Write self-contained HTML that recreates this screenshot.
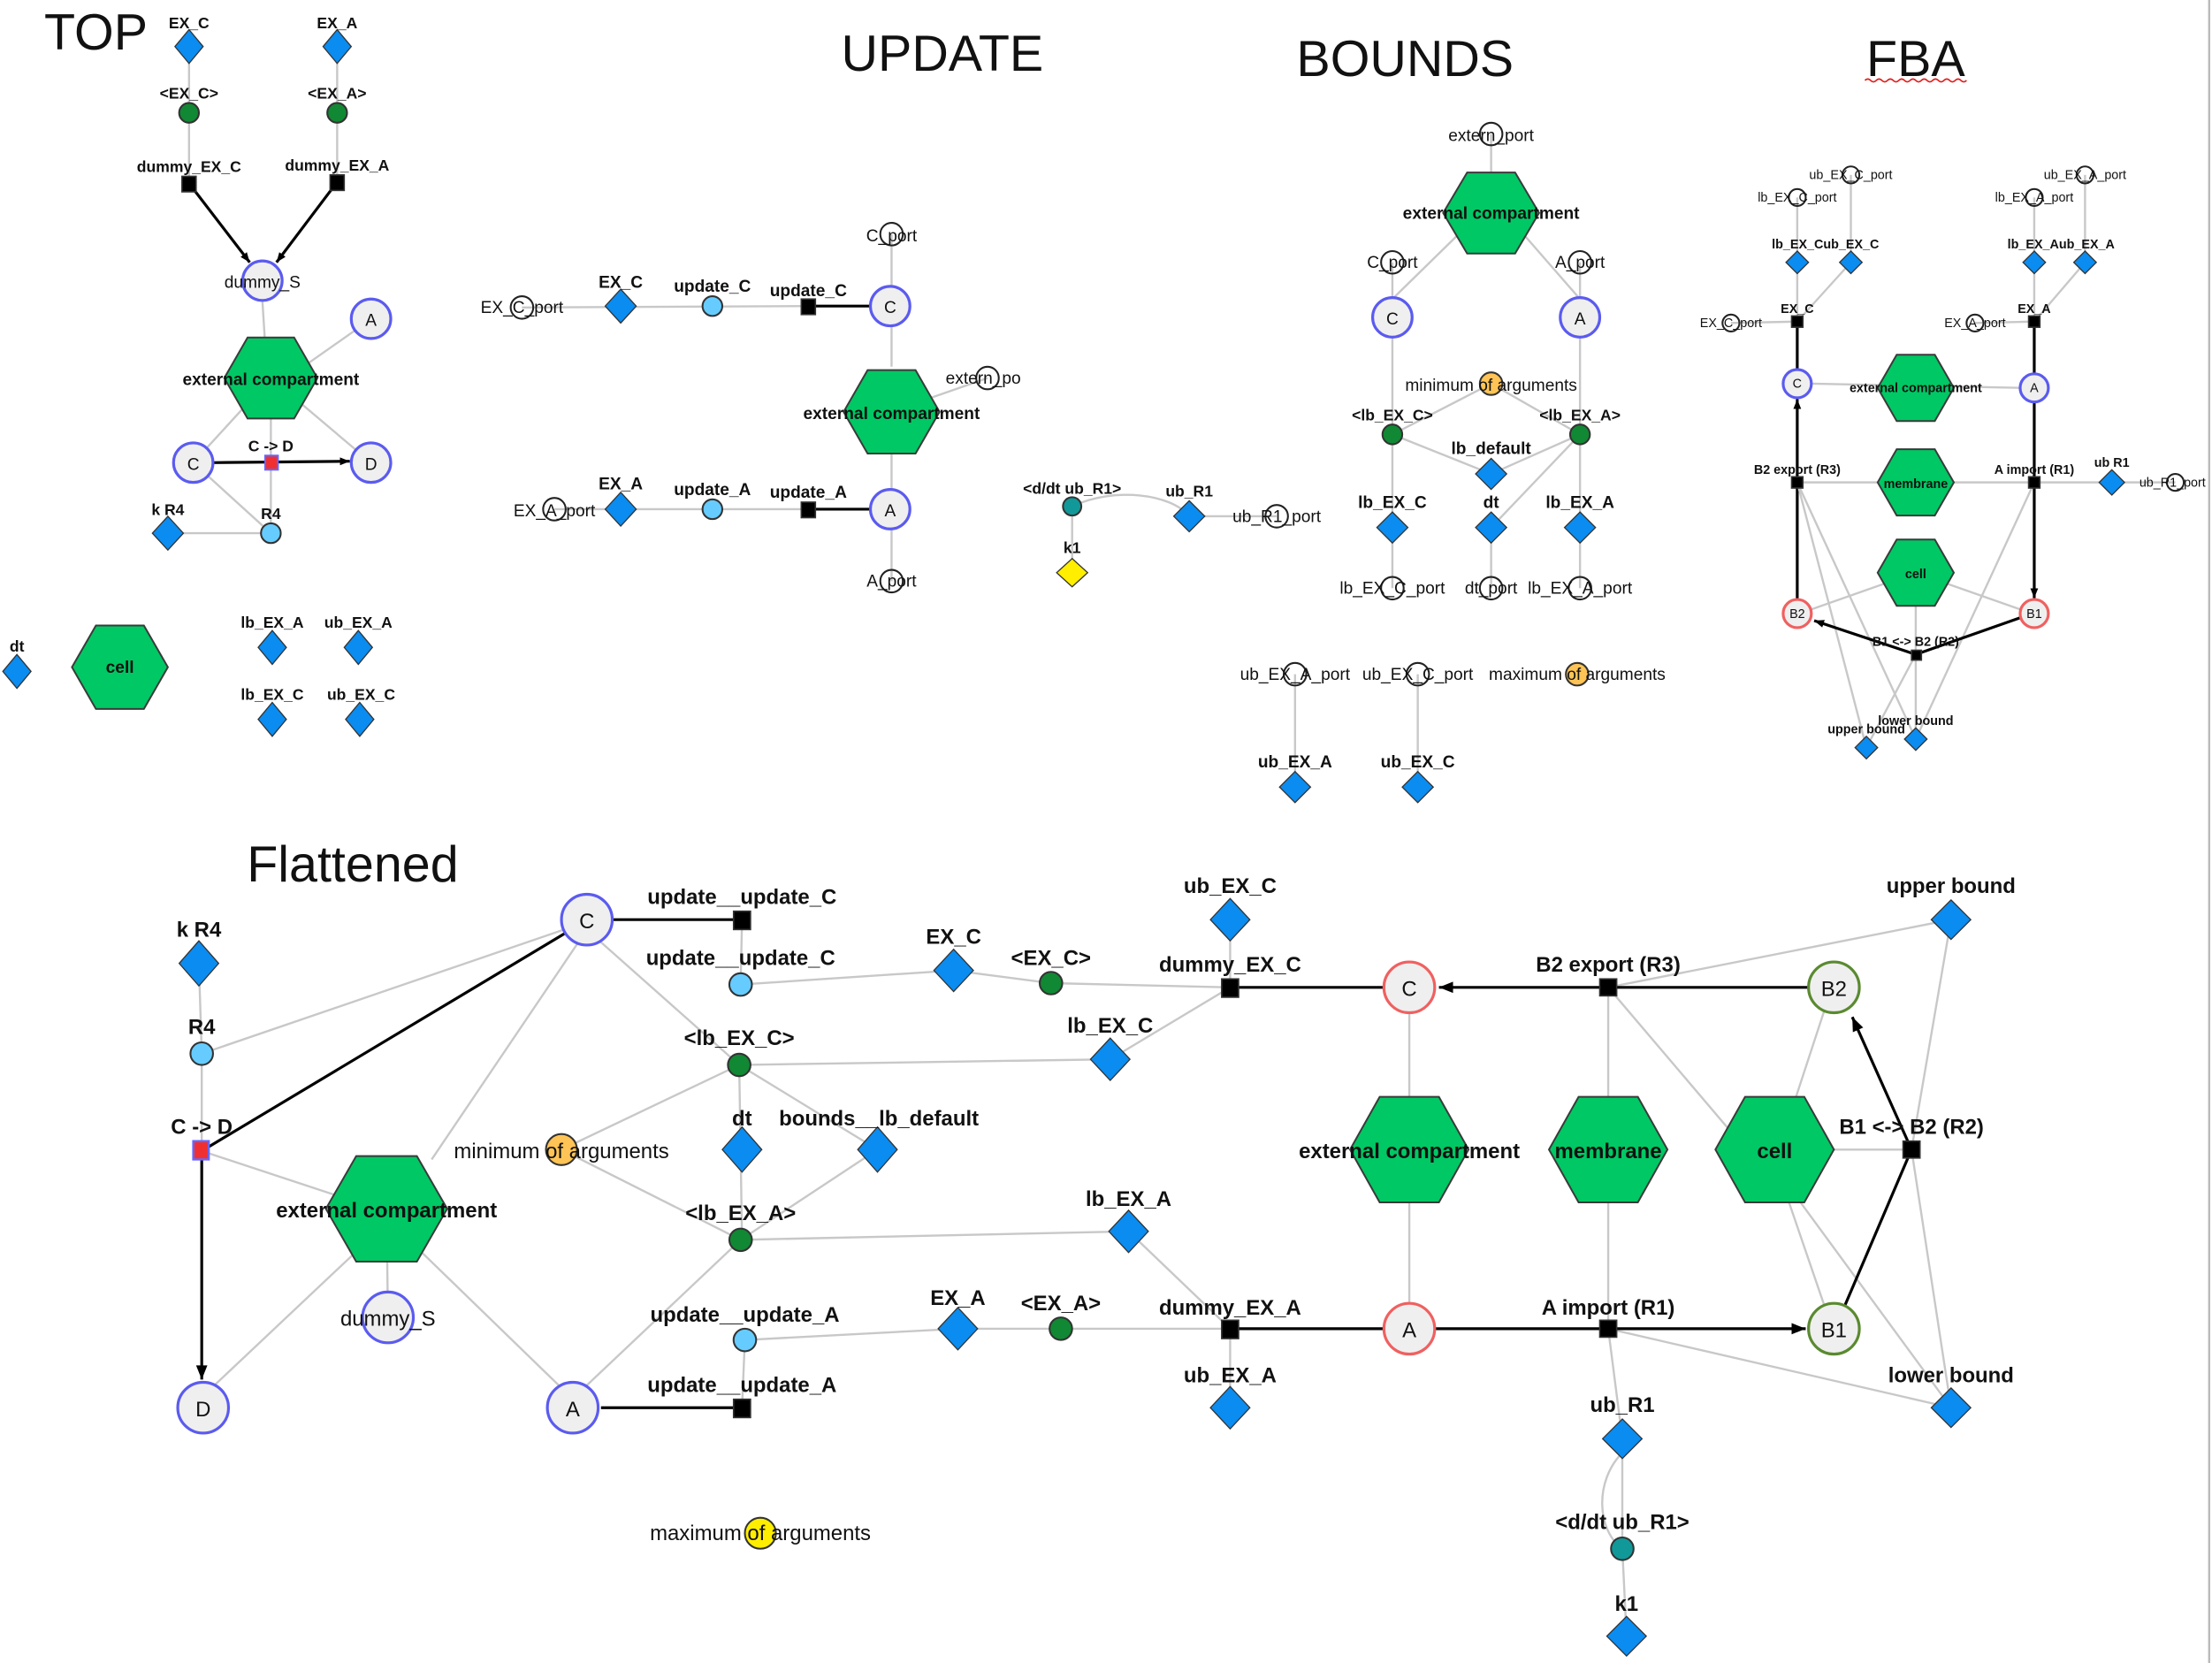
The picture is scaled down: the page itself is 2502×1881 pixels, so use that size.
<!DOCTYPE html>
<html><head><meta charset="utf-8"><style>
html,body{margin:0;padding:0;background:#fff;}
svg{display:block}
text{font-family:"Liberation Sans",sans-serif;text-anchor:middle;fill:#111}
.b{font-weight:bold}
.g{stroke:#c8c8c8;stroke-width:1.5;fill:none}
.k{stroke:#000;stroke-width:2;fill:none}
.dm{fill:#0a8cf0;stroke:#333;vector-effect:non-scaling-stroke;stroke-width:1.3}
.hx{fill:#00c864;stroke:#3a3a3a;vector-effect:non-scaling-stroke;stroke-width:2}
.sp{fill:#efefef;stroke:#5b5bf0;stroke-width:2}
.spr{fill:#efefef;stroke:#f06060;stroke-width:2}
.spg{fill:#efefef;stroke:#5a8a30;stroke-width:2}
.gc{fill:#118833;stroke:#333;stroke-width:1.3}
.lb{fill:#66ccff;stroke:#333;stroke-width:1.3}
.pt{fill:none;stroke:#222;stroke-width:1.3}
.sq{fill:#000;stroke:#333;stroke-width:1}
</style></head><body>
<svg width="2502" height="1881" viewBox="0 0 1568 1179" preserveAspectRatio="none" xmlns="http://www.w3.org/2000/svg">
<defs>
<marker id="ar" viewBox="0 0 10 10" refX="10" refY="5" markerWidth="7" markerHeight="7" orient="auto-start-reverse" markerUnits="userSpaceOnUse"><path d="M0,1 L10,5 L0,9Z" fill="#000"/></marker>
<marker id="ar2" viewBox="0 0 10 10" refX="10" refY="5" markerWidth="12" markerHeight="10" orient="auto" markerUnits="userSpaceOnUse"><path d="M0,1 L10,5 L0,9Z" fill="#000"/></marker>
</defs>
<line x1="1566" y1="0" x2="1566" y2="1179" stroke="#bbb" stroke-width="1.5"/>

<!-- ================= TOP ================= -->
<text x="68" y="35" font-size="36">TOP</text>
<line class="g" x1="134" y1="33" x2="134" y2="130"/>
<line class="g" x1="239" y1="33" x2="239" y2="129"/>
<line class="k" x1="134" y1="130" x2="177" y2="186" marker-end="url(#ar)" stroke-width="1.5"/>
<line class="k" x1="239" y1="129" x2="196" y2="186" marker-end="url(#ar)" stroke-width="1.5"/>
<line class="g" x1="186" y1="213" x2="188" y2="245"/>
<line class="g" x1="252" y1="234" x2="215" y2="260"/>
<line class="g" x1="192" y1="268" x2="137" y2="328"/>
<line class="g" x1="192" y1="268" x2="263" y2="328"/>
<line class="g" x1="192" y1="280" x2="192" y2="378"/>
<line class="g" x1="137" y1="328" x2="192" y2="378"/>
<line class="g" x1="119" y1="378" x2="192" y2="378"/>
<line class="k" x1="150" y1="328" x2="248" y2="327" marker-end="url(#ar)" stroke-width="1.5"/>
<path d="M0,-1 L1,0 L0,1 L-1,0Z" class="dm" transform="translate(134,33) scale(10,12)"/>
<path d="M0,-1 L1,0 L0,1 L-1,0Z" class="dm" transform="translate(239,33) scale(10,12)"/>
<text x="134" y="20" font-size="11" class="b">EX_C</text>
<text x="239" y="20" font-size="11" class="b">EX_A</text>
<circle cx="134" cy="80" r="7" class="gc"/><circle cx="239" cy="80" r="7" class="gc"/>
<text x="134" y="70" font-size="11" class="b">&lt;EX_C&gt;</text>
<text x="239" y="70" font-size="11" class="b">&lt;EX_A&gt;</text>
<rect x="129" y="125" width="10" height="11" class="sq"/><rect x="234" y="124" width="10" height="11" class="sq"/>
<text x="134" y="122" font-size="11" class="b">dummy_EX_C</text>
<text x="239" y="121" font-size="11" class="b">dummy_EX_A</text>
<ellipse cx="186" cy="199" rx="14" ry="14" class="sp"/>
<text x="186" y="204" font-size="12">dummy_S</text>
<circle cx="263" cy="226" r="14" class="sp"/><text x="263" y="231" font-size="12">A</text>
<path d="M-1,0 L-0.5,-0.87 L0.5,-0.87 L1,0 L0.5,0.87 L-0.5,0.87Z" class="hx" transform="translate(192,268) scale(33,33)"/>
<text x="192" y="273" font-size="12" class="b">external compartment</text>
<circle cx="137" cy="328" r="14" class="sp"/><text x="137" y="333" font-size="12">C</text>
<circle cx="263" cy="328" r="14" class="sp"/><text x="263" y="333" font-size="12">D</text>
<rect x="188" y="323" width="9" height="10" fill="#f03030" stroke="#6666ff" stroke-width="1.3"/>
<text x="192" y="320" font-size="11" class="b">C -&gt; D</text>
<path d="M0,-1 L1,0 L0,1 L-1,0Z" class="dm" transform="translate(119,378) scale(11,12)"/>
<text x="119" y="365" font-size="11" class="b">k R4</text>
<circle cx="192" cy="378" r="7" class="lb"/>
<text x="192" y="368" font-size="11" class="b">R4</text>
<path d="M0,-1 L1,0 L0,1 L-1,0Z" class="dm" transform="translate(12,476) scale(10,12)"/>
<text x="12" y="462" font-size="11" class="b">dt</text>
<path d="M-1,0 L-0.5,-0.87 L0.5,-0.87 L1,0 L0.5,0.87 L-0.5,0.87Z" class="hx" transform="translate(85,473) scale(34,34)"/>
<text x="85" y="477" font-size="12" class="b">cell</text>
<path d="M0,-1 L1,0 L0,1 L-1,0Z" class="dm" transform="translate(193,459) scale(10,12)"/>
<path d="M0,-1 L1,0 L0,1 L-1,0Z" class="dm" transform="translate(254,459) scale(10,12)"/>
<path d="M0,-1 L1,0 L0,1 L-1,0Z" class="dm" transform="translate(193,510) scale(10,12)"/>
<path d="M0,-1 L1,0 L0,1 L-1,0Z" class="dm" transform="translate(255,510) scale(10,12)"/>
<text x="193" y="445" font-size="11" class="b">lb_EX_A</text>
<text x="254" y="445" font-size="11" class="b">ub_EX_A</text>
<text x="193" y="496" font-size="11" class="b">lb_EX_C</text>
<text x="256" y="496" font-size="11" class="b">ub_EX_C</text>

<!-- ================= UPDATE ================= -->
<text x="668" y="50" font-size="36">UPDATE</text>
<line class="g" x1="370" y1="218" x2="573" y2="217"/>
<line class="k" x1="573" y1="217" x2="618" y2="217"/>
<line class="g" x1="632" y1="166" x2="632" y2="260"/>
<line class="g" x1="632" y1="320" x2="632" y2="412"/>
<line class="g" x1="660" y1="282" x2="700" y2="268"/>
<line class="g" x1="393" y1="361" x2="573" y2="361"/>
<line class="k" x1="573" y1="361" x2="618" y2="361"/>
<circle cx="370" cy="218" r="8" class="pt"/><text x="370" y="222" font-size="12">EX_C_port</text>
<path d="M0,-1 L1,0 L0,1 L-1,0Z" class="dm" transform="translate(440,217) scale(11,12)"/>
<text x="440" y="204" font-size="12" class="b">EX_C</text>
<circle cx="505" cy="217" r="7" class="lb"/><text x="505" y="207" font-size="12" class="b">update_C</text>
<rect x="568" y="212" width="10" height="11" class="sq"/><text x="573" y="210" font-size="12" class="b">update_C</text>
<circle cx="632" cy="166" r="8" class="pt"/><text x="632" y="171" font-size="12">C_port</text>
<circle cx="631" cy="217" r="14" class="sp"/><text x="631" y="222" font-size="12">C</text>
<path d="M-1,0 L-0.5,-0.87 L0.5,-0.87 L1,0 L0.5,0.87 L-0.5,0.87Z" class="hx" transform="translate(632,292) scale(34,34)"/>
<text x="632" y="297" font-size="12" class="b">external compartment</text>
<circle cx="700" cy="268" r="8" class="pt"/><text x="697" y="272" font-size="12">extern_po</text>
<circle cx="393" cy="361" r="8" class="pt"/><text x="393" y="366" font-size="12">EX_A_port</text>
<path d="M0,-1 L1,0 L0,1 L-1,0Z" class="dm" transform="translate(440,361) scale(11,12)"/>
<text x="440" y="347" font-size="12" class="b">EX_A</text>
<circle cx="505" cy="361" r="7" class="lb"/><text x="505" y="351" font-size="12" class="b">update_A</text>
<rect x="568" y="356" width="10" height="11" class="sq"/><text x="573" y="353" font-size="12" class="b">update_A</text>
<circle cx="631" cy="361" r="14" class="sp"/><text x="631" y="366" font-size="12">A</text>
<circle cx="632" cy="412" r="8" class="pt"/><text x="632" y="416" font-size="12">A_port</text>

<!-- ub_R1 small -->
<path class="g" d="M760,359 C790,345 830,350 843,366"/>
<line class="g" x1="843" y1="366" x2="905" y2="366"/>
<line class="g" x1="760" y1="359" x2="760" y2="406"/>
<circle cx="760" cy="359" r="6.5" fill="#119999" stroke="#333" stroke-width="1.3"/>
<text x="760" y="350" font-size="11" class="b">&lt;d/dt ub_R1&gt;</text>
<path d="M0,-1 L1,0 L0,1 L-1,0Z" class="dm" transform="translate(843,366) scale(11,11)"/>
<text x="843" y="352" font-size="11" class="b">ub_R1</text>
<circle cx="905" cy="366" r="8" class="pt"/><text x="905" y="370" font-size="12">ub_R1_port</text>
<path d="M0,-1 L1,0 L0,1 L-1,0Z" class="dm" style="fill:#ffee00" transform="translate(760,406) scale(11,10)"/>
<text x="760" y="392" font-size="11" class="b">k1</text>

<!-- ================= BOUNDS ================= -->
<text x="996" y="54" font-size="36">BOUNDS</text>
<line class="g" x1="1057" y1="95" x2="1057" y2="125"/>
<line class="g" x1="1035" y1="165" x2="987" y2="212"/>
<line class="g" x1="1079" y1="165" x2="1120" y2="212"/>
<line class="g" x1="987" y1="186" x2="987" y2="308"/>
<line class="g" x1="1120" y1="186" x2="1120" y2="308"/>
<line class="g" x1="1057" y1="272" x2="987" y2="308"/>
<line class="g" x1="1057" y1="272" x2="1120" y2="308"/>
<line class="g" x1="987" y1="308" x2="1057" y2="336"/>
<line class="g" x1="1120" y1="308" x2="1057" y2="336"/>
<line class="g" x1="987" y1="308" x2="987" y2="417"/>
<line class="g" x1="1120" y1="308" x2="1120" y2="417"/>
<line class="g" x1="1120" y1="308" x2="1057" y2="374"/>
<line class="g" x1="1057" y1="374" x2="1057" y2="417"/>
<line class="g" x1="918" y1="478" x2="918" y2="558"/>
<line class="g" x1="1005" y1="478" x2="1005" y2="558"/>
<circle cx="1057" cy="95" r="8" class="pt"/><text x="1057" y="100" font-size="12">extern_port</text>
<path d="M-1,0 L-0.5,-0.87 L0.5,-0.87 L1,0 L0.5,0.87 L-0.5,0.87Z" class="hx" transform="translate(1057,151) scale(34,33)"/>
<text x="1057" y="155" font-size="12" class="b">external compartment</text>
<circle cx="987" cy="186" r="8" class="pt"/><text x="987" y="190" font-size="12">C_port</text>
<circle cx="1120" cy="186" r="8" class="pt"/><text x="1120" y="190" font-size="12">A_port</text>
<circle cx="987" cy="225" r="14" class="sp"/><text x="987" y="230" font-size="12">C</text>
<circle cx="1120" cy="225" r="14" class="sp"/><text x="1120" y="230" font-size="12">A</text>
<circle cx="1057" cy="272" r="8" fill="#ffc455" stroke="#333" stroke-width="1.3"/>
<text x="1057" y="277" font-size="12">minimum of arguments</text>
<circle cx="987" cy="308" r="7" class="gc"/><text x="987" y="298" font-size="11" class="b">&lt;lb_EX_C&gt;</text>
<circle cx="1120" cy="308" r="7" class="gc"/><text x="1120" y="298" font-size="11" class="b">&lt;lb_EX_A&gt;</text>
<path d="M0,-1 L1,0 L0,1 L-1,0Z" class="dm" transform="translate(1057,336) scale(11,11)"/>
<text x="1057" y="322" font-size="12" class="b">lb_default</text>
<path d="M0,-1 L1,0 L0,1 L-1,0Z" class="dm" transform="translate(987,374) scale(11,11)"/>
<path d="M0,-1 L1,0 L0,1 L-1,0Z" class="dm" transform="translate(1057,374) scale(11,11)"/>
<path d="M0,-1 L1,0 L0,1 L-1,0Z" class="dm" transform="translate(1120,374) scale(11,11)"/>
<text x="987" y="360" font-size="12" class="b">lb_EX_C</text>
<text x="1057" y="360" font-size="12" class="b">dt</text>
<text x="1120" y="360" font-size="12" class="b">lb_EX_A</text>
<circle cx="987" cy="417" r="8" class="pt"/><text x="987" y="421" font-size="12">lb_EX_C_port</text>
<circle cx="1057" cy="417" r="8" class="pt"/><text x="1057" y="421" font-size="12">dt_port</text>
<circle cx="1120" cy="417" r="8" class="pt"/><text x="1120" y="421" font-size="12">lb_EX_A_port</text>
<circle cx="918" cy="478" r="8" class="pt"/><text x="918" y="482" font-size="12">ub_EX_A_port</text>
<circle cx="1005" cy="478" r="8" class="pt"/><text x="1005" y="482" font-size="12">ub_EX_C_port</text>
<circle cx="1118" cy="478" r="8" fill="#ffc455" stroke="#333" stroke-width="1.3"/>
<text x="1118" y="482" font-size="12">maximum of arguments</text>
<path d="M0,-1 L1,0 L0,1 L-1,0Z" class="dm" transform="translate(918,558) scale(11,11)"/>
<path d="M0,-1 L1,0 L0,1 L-1,0Z" class="dm" transform="translate(1005,558) scale(11,11)"/>
<text x="918" y="544" font-size="12" class="b">ub_EX_A</text>
<text x="1005" y="544" font-size="12" class="b">ub_EX_C</text>

<!-- ================= FBA ================= -->
<text x="1358" y="54" font-size="36">FBA</text>
<path d="M1322,57 q2,-2 4,0 t4,0 t4,0 t4,0 t4,0 t4,0 t4,0 t4,0 t4,0 t4,0 t4,0 t4,0 t4,0 t4,0 t4,0 t4,0 t4,0 t4,0" stroke="#e02020" fill="none" stroke-width="1"/>
<g font-size="9">
<line class="g" x1="1312" y1="124" x2="1312" y2="186"/>
<line class="g" x1="1274" y1="140" x2="1274" y2="228"/>
<line class="g" x1="1312" y1="186" x2="1274" y2="228"/>
<line class="g" x1="1478" y1="124" x2="1478" y2="186"/>
<line class="g" x1="1442" y1="140" x2="1442" y2="228"/>
<line class="g" x1="1478" y1="186" x2="1442" y2="228"/>
<line class="g" x1="1227" y1="229" x2="1274" y2="228"/>
<line class="g" x1="1400" y1="229" x2="1442" y2="228"/>
<line class="k" x1="1274" y1="228" x2="1274" y2="262" stroke-width="1.3"/>
<line class="k" x1="1442" y1="228" x2="1442" y2="265" stroke-width="1.3"/>
<line class="g" x1="1284" y1="272" x2="1432" y2="275"/>
<line class="g" x1="1274" y1="342" x2="1542" y2="342"/>
<line class="k" x1="1274" y1="425" x2="1274" y2="283" marker-end="url(#ar)" stroke-width="1.3"/>
<line class="k" x1="1442" y1="285" x2="1442" y2="424" marker-end="url(#ar)" stroke-width="1.3"/>
<line class="g" x1="1284" y1="432" x2="1358" y2="406"/>
<line class="g" x1="1432" y1="432" x2="1358" y2="406"/>
<line class="g" x1="1358" y1="406" x2="1358" y2="524"/>
<line class="g" x1="1274" y1="342" x2="1323" y2="530"/>
<line class="g" x1="1274" y1="342" x2="1358" y2="524"/>
<line class="g" x1="1442" y1="342" x2="1358" y2="524"/>
<line class="g" x1="1358" y1="464" x2="1323" y2="530"/>
<line class="k" x1="1358" y1="464" x2="1286" y2="440" marker-end="url(#ar)" stroke-width="1.3"/>
<line class="k" x1="1358" y1="464" x2="1432" y2="438" stroke-width="1.3"/>
<circle cx="1312" cy="124" r="6" class="pt"/><text x="1312" y="127">ub_EX_C_port</text>
<circle cx="1274" cy="140" r="6" class="pt"/><text x="1274" y="143">lb_EX_C_port</text>
<circle cx="1478" cy="124" r="6" class="pt"/><text x="1478" y="127">ub_EX_A_port</text>
<circle cx="1442" cy="140" r="6" class="pt"/><text x="1442" y="143">lb_EX_A_port</text>
<path d="M0,-1 L1,0 L0,1 L-1,0Z" class="dm" transform="translate(1274,186) scale(8,8)"/>
<path d="M0,-1 L1,0 L0,1 L-1,0Z" class="dm" transform="translate(1312,186) scale(8,8)"/>
<path d="M0,-1 L1,0 L0,1 L-1,0Z" class="dm" transform="translate(1442,186) scale(8,8)"/>
<path d="M0,-1 L1,0 L0,1 L-1,0Z" class="dm" transform="translate(1478,186) scale(8,8)"/>
<text x="1294" y="176" class="b">lb_EX_Cub_EX_C</text>
<text x="1461" y="176" class="b">lb_EX_Aub_EX_A</text>
<rect x="1270" y="224" width="8" height="8" class="sq"/><text x="1274" y="222" class="b">EX_C</text>
<rect x="1438" y="224" width="8" height="8" class="sq"/><text x="1442" y="222" class="b">EX_A</text>
<circle cx="1227" cy="229" r="6" class="pt"/><text x="1227" y="232">EX_C_port</text>
<circle cx="1400" cy="229" r="6" class="pt"/><text x="1400" y="232">EX_A_port</text>
<circle cx="1274" cy="272" r="10" class="sp" stroke-width="1.3"/><text x="1274" y="275">C</text>
<circle cx="1442" cy="275" r="10" class="sp" stroke-width="1.3"/><text x="1442" y="278">A</text>
<path d="M-1,0 L-0.5,-0.87 L0.5,-0.87 L1,0 L0.5,0.87 L-0.5,0.87Z" class="hx" transform="translate(1358,275) scale(27,27)"/>
<text x="1358" y="278" class="b">external compartment</text>
<rect x="1270" y="338" width="8" height="8" class="sq" stroke="#4a7a2a"/><text x="1274" y="336" class="b">B2 export (R3)</text>
<rect x="1438" y="338" width="8" height="8" class="sq" stroke="#4a7a2a"/><text x="1442" y="336" class="b">A import (R1)</text>
<path d="M-1,0 L-0.5,-0.87 L0.5,-0.87 L1,0 L0.5,0.87 L-0.5,0.87Z" class="hx" transform="translate(1358,342) scale(27,27)"/>
<text x="1358" y="346" class="b">membrane</text>
<path d="M0,-1 L1,0 L0,1 L-1,0Z" class="dm" transform="translate(1497,342) scale(9,9)"/>
<text x="1497" y="331" class="b">ub R1</text>
<circle cx="1542" cy="342" r="6" class="pt"/><text x="1540" y="345">ub_R1_port</text>
<path d="M-1,0 L-0.5,-0.87 L0.5,-0.87 L1,0 L0.5,0.87 L-0.5,0.87Z" class="hx" transform="translate(1358,406) scale(27,27)"/>
<text x="1358" y="410" class="b">cell</text>
<circle cx="1274" cy="435" r="10" class="spr" stroke-width="1.3"/><text x="1274" y="438">B2</text>
<circle cx="1442" cy="435" r="10" class="spr" stroke-width="1.3"/><text x="1442" y="438">B1</text>
<rect x="1355" y="461" width="7" height="7" class="sq" stroke="#f05050"/>
<text x="1358" y="458" class="b">B1 &lt;-&gt; B2 (R2)</text>
<path d="M0,-1 L1,0 L0,1 L-1,0Z" class="dm" transform="translate(1323,530) scale(8,8)"/>
<path d="M0,-1 L1,0 L0,1 L-1,0Z" class="dm" transform="translate(1358,524) scale(8,8)"/>
<text x="1323" y="520" class="b">upper bound</text>
<text x="1358" y="514" class="b">lower bound</text>
</g>

<!-- ================= FLATTENED ================= -->
<text x="250" y="625" font-size="36">Flattened</text>
<line class="g" x1="141" y1="683" x2="143" y2="747"/>
<line class="g" x1="143" y1="747" x2="143" y2="816"/>
<line class="g" x1="143" y1="747" x2="400" y2="659"/>
<line class="g" x1="143" y1="816" x2="240" y2="848"/>
<line class="g" x1="410" y1="668" x2="306" y2="822"/>
<line class="g" x1="426" y1="668" x2="524" y2="755"/>
<line class="g" x1="526" y1="652" x2="525" y2="698"/>
<line class="g" x1="525" y1="698" x2="676" y2="688"/>
<line class="g" x1="676" y1="688" x2="745" y2="697"/>
<line class="g" x1="745" y1="697" x2="872" y2="700"/>
<line class="g" x1="872" y1="652" x2="872" y2="700"/>
<line class="g" x1="872" y1="700" x2="787" y2="751"/>
<line class="g" x1="524" y1="755" x2="787" y2="751"/>
<line class="g" x1="524" y1="755" x2="398" y2="815"/>
<line class="g" x1="398" y1="815" x2="525" y2="879"/>
<line class="g" x1="524" y1="755" x2="526" y2="879"/>
<line class="g" x1="524" y1="755" x2="622" y2="815"/>
<line class="g" x1="622" y1="815" x2="525" y2="879"/>
<line class="g" x1="525" y1="879" x2="800" y2="873"/>
<line class="g" x1="800" y1="873" x2="872" y2="942"/>
<line class="g" x1="525" y1="879" x2="414" y2="984"/>
<line class="g" x1="274" y1="857" x2="275" y2="934"/>
<line class="g" x1="255" y1="885" x2="150" y2="984"/>
<line class="g" x1="296" y1="885" x2="398" y2="984"/>
<line class="g" x1="528" y1="950" x2="526" y2="998"/>
<line class="g" x1="528" y1="950" x2="679" y2="942"/>
<line class="g" x1="679" y1="942" x2="752" y2="942"/>
<line class="g" x1="752" y1="942" x2="872" y2="942"/>
<line class="g" x1="872" y1="942" x2="872" y2="998"/>
<line class="g" x1="999" y1="718" x2="999" y2="780"/>
<line class="g" x1="999" y1="852" x2="999" y2="924"/>
<line class="g" x1="1140" y1="700" x2="1140" y2="780"/>
<line class="g" x1="1140" y1="852" x2="1140" y2="942"/>
<line class="g" x1="1140" y1="700" x2="1383" y2="652"/>
<line class="g" x1="1140" y1="700" x2="1225" y2="800"/>
<line class="g" x1="1383" y1="652" x2="1355" y2="815"/>
<line class="g" x1="1355" y1="815" x2="1383" y2="998"/>
<line class="g" x1="1300" y1="815" x2="1355" y2="815"/>
<line class="g" x1="1273" y1="778" x2="1293" y2="717"/>
<line class="g" x1="1268" y1="852" x2="1293" y2="925"/>
<line class="g" x1="1276" y1="852" x2="1383" y2="998"/>
<line class="g" x1="1140" y1="942" x2="1383" y2="998"/>
<line class="g" x1="1140" y1="942" x2="1150" y2="1020"/>
<line class="g" x1="1150" y1="1020" x2="1150" y2="1098"/>
<path class="g" d="M1150,1030 C1130,1050 1132,1085 1150,1098"/>
<line class="g" x1="1150" y1="1098" x2="1153" y2="1160"/>
<line class="k" x1="434" y1="652" x2="526" y2="652" stroke-width="2.5"/>
<line class="k" x1="400" y1="662" x2="143" y2="816"/>
<line class="k" x1="143" y1="816" x2="143" y2="978" marker-end="url(#ar2)"/>
<line class="k" x1="426" y1="998" x2="526" y2="998" stroke-width="2.5"/>
<line class="k" x1="872" y1="700" x2="981" y2="700"/>
<line class="k" x1="1282" y1="700" x2="1020" y2="700" marker-end="url(#ar2)"/>
<line class="k" x1="872" y1="942" x2="981" y2="942"/>
<line class="k" x1="1017" y1="942" x2="1280" y2="942" marker-end="url(#ar2)"/>
<line class="k" x1="1355" y1="815" x2="1313" y2="721" marker-end="url(#ar2)"/>
<line class="k" x1="1355" y1="815" x2="1308" y2="925"/>
<g font-size="15" class="b">
<circle cx="416" cy="652" r="18" class="sp"/><text x="416" y="658" font-weight="normal">C</text>
<rect x="520" y="646" width="12" height="13" class="sq"/><text x="526" y="641">update__update_C</text>
<circle cx="525" cy="698" r="8" class="lb"/><text x="525" y="684">update__update_C</text>
<path d="M0,-1 L1,0 L0,1 L-1,0Z" class="dm" transform="translate(676,688) scale(14,15)"/><text x="676" y="669">EX_C</text>
<circle cx="745" cy="697" r="8" class="gc"/><text x="745" y="684">&lt;EX_C&gt;</text>
<rect x="866" y="694" width="12" height="13" class="sq"/><text x="872" y="689">dummy_EX_C</text>
<path d="M0,-1 L1,0 L0,1 L-1,0Z" class="dm" transform="translate(872,652) scale(14,15)"/><text x="872" y="633">ub_EX_C</text>
<circle cx="999" cy="700" r="18" class="spr"/><text x="999" y="706" font-weight="normal">C</text>
<rect x="1134" y="694" width="12" height="12" class="sq" stroke="#f08020" stroke-width="1.5"/><text x="1140" y="689">B2 export (R3)</text>
<circle cx="1300" cy="700" r="18" class="spg"/><text x="1300" y="706" font-weight="normal">B2</text>
<path d="M0,-1 L1,0 L0,1 L-1,0Z" class="dm" transform="translate(1383,652) scale(14,14)"/><text x="1383" y="633">upper bound</text>
<path d="M0,-1 L1,0 L0,1 L-1,0Z" class="dm" transform="translate(787,751) scale(14,15)"/><text x="787" y="732">lb_EX_C</text>
<circle cx="524" cy="755" r="8" class="gc"/><text x="524" y="741">&lt;lb_EX_C&gt;</text>
<path d="M0,-1 L1,0 L0,1 L-1,0Z" class="dm" transform="translate(141,683) scale(14,16)"/><text x="141" y="664">k R4</text>
<circle cx="143" cy="747" r="8" class="lb"/><text x="143" y="733">R4</text>
<rect x="137" y="809" width="11" height="13" fill="#f03030" stroke="#6666ff" stroke-width="1.5"/><text x="143" y="804">C -&gt; D</text>
<circle cx="144" cy="998" r="18" class="sp"/><text x="144" y="1004" font-weight="normal">D</text>
<path d="M0,-1 L1,0 L0,1 L-1,0Z" class="dm" transform="translate(526,815) scale(14,16)"/><text x="526" y="798">dt</text>
<path d="M0,-1 L1,0 L0,1 L-1,0Z" class="dm" transform="translate(622,815) scale(14,16)"/><text x="623" y="798">bounds__lb_default</text>
<circle cx="398" cy="815" r="11" fill="#ffc455" stroke="#333" stroke-width="1.3"/><text x="398" y="821" font-weight="normal">minimum of arguments</text>
<path d="M-1,0 L-0.5,-0.87 L0.5,-0.87 L1,0 L0.5,0.87 L-0.5,0.87Z" class="hx" transform="translate(274,857) scale(43,43)"/><text x="274" y="863">external compartment</text>
<circle cx="275" cy="934" r="18" class="sp"/><text x="275" y="940" font-weight="normal">dummy_S</text>
<circle cx="525" cy="879" r="8" class="gc"/><text x="525" y="865">&lt;lb_EX_A&gt;</text>
<path d="M0,-1 L1,0 L0,1 L-1,0Z" class="dm" transform="translate(800,873) scale(14,15)"/><text x="800" y="855">lb_EX_A</text>
<circle cx="528" cy="950" r="8" class="lb"/><text x="528" y="937">update__update_A</text>
<path d="M0,-1 L1,0 L0,1 L-1,0Z" class="dm" transform="translate(679,942) scale(14,15)"/><text x="679" y="925">EX_A</text>
<circle cx="752" cy="942" r="8" class="gc"/><text x="752" y="929">&lt;EX_A&gt;</text>
<rect x="866" y="936" width="12" height="13" class="sq"/><text x="872" y="932">dummy_EX_A</text>
<circle cx="999" cy="942" r="18" class="spr"/><text x="999" y="948" font-weight="normal">A</text>
<rect x="1134" y="936" width="12" height="12" class="sq" stroke="#f08020" stroke-width="1.5"/><text x="1140" y="932">A import (R1)</text>
<circle cx="1300" cy="942" r="18" class="spg"/><text x="1300" y="948" font-weight="normal">B1</text>
<path d="M0,-1 L1,0 L0,1 L-1,0Z" class="dm" transform="translate(872,998) scale(14,15)"/><text x="872" y="980">ub_EX_A</text>
<circle cx="406" cy="998" r="18" class="sp"/><text x="406" y="1004" font-weight="normal">A</text>
<rect x="520" y="992" width="12" height="13" class="sq"/><text x="526" y="987">update__update_A</text>
<path d="M-1,0 L-0.5,-0.87 L0.5,-0.87 L1,0 L0.5,0.87 L-0.5,0.87Z" class="hx" transform="translate(999,815) scale(42,43)"/><text x="999" y="821">external compartment</text>
<path d="M-1,0 L-0.5,-0.87 L0.5,-0.87 L1,0 L0.5,0.87 L-0.5,0.87Z" class="hx" transform="translate(1140,815) scale(42,43)"/><text x="1140" y="821">membrane</text>
<path d="M-1,0 L-0.5,-0.87 L0.5,-0.87 L1,0 L0.5,0.87 L-0.5,0.87Z" class="hx" transform="translate(1258,815) scale(42,43)"/><text x="1258" y="821">cell</text>
<rect x="1349" y="809" width="12" height="12" class="sq" stroke="#4a7a2a" stroke-width="1.5"/><text x="1355" y="804">B1 &lt;-&gt; B2 (R2)</text>
<path d="M0,-1 L1,0 L0,1 L-1,0Z" class="dm" transform="translate(1383,998) scale(14,14)"/><text x="1383" y="980">lower bound</text>
<path d="M0,-1 L1,0 L0,1 L-1,0Z" class="dm" transform="translate(1150,1020) scale(14,14)"/><text x="1150" y="1001">ub_R1</text>
<circle cx="1150" cy="1098" r="8" fill="#119999" stroke="#333" stroke-width="1.3"/><text x="1150" y="1084">&lt;d/dt ub_R1&gt;</text>
<path d="M0,-1 L1,0 L0,1 L-1,0Z" class="dm" transform="translate(1153,1160) scale(14,14)"/><text x="1153" y="1142">k1</text>
<circle cx="539" cy="1087" r="11" fill="#ffee00" stroke="#333" stroke-width="1.3"/><text x="539" y="1092" font-weight="normal">maximum of arguments</text>
</g>
</svg>
</body></html>
